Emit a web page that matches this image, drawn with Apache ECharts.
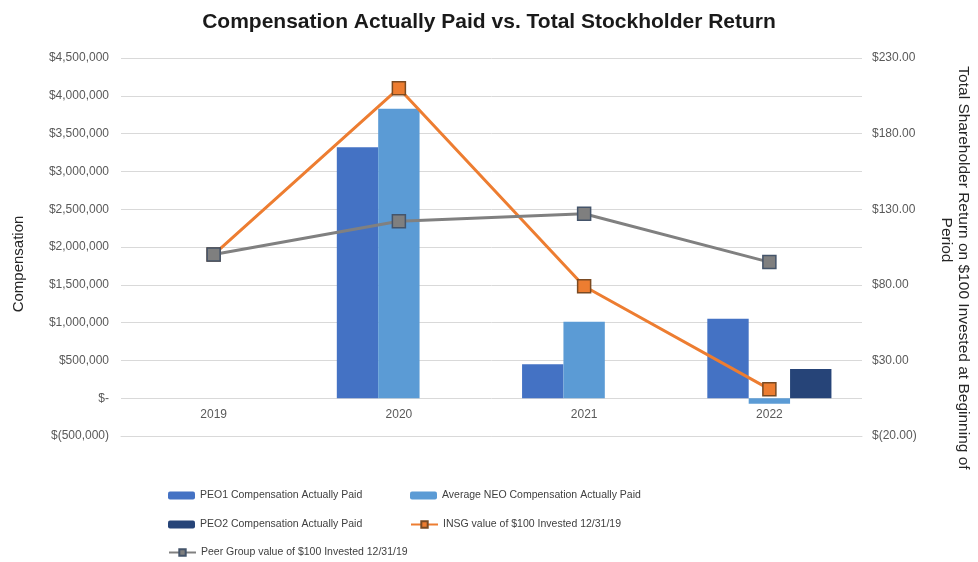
<!DOCTYPE html>
<html>
<head>
<meta charset="utf-8">
<script src="https://cdn.jsdelivr.net/npm/echarts@6/dist/echarts.min.js"></script>
<style>
  html, body { margin: 0; padding: 0; background: #fff; }
  #chart { width: 978px; height: 562px; }
</style>
</head>
<body>
<div id="chart"></div>
<script>
// data
var years = ['2019', '2020', '2021', '2022'];
var peo1Paid = [null, 3320000, 450000, 1050000];
var neoPaid = [null, 3830000, 1010000, -75000];
var peo2Paid = [null, null, null, 385000];
var insgValue = [100, 210, 79, 11];
var peerValue = [100, 122, 127, 95];
var rightTicks = [-20, 30, 80, 130, 180, 230];

var names = {
  peo1: 'PEO1 Compensation Actually Paid',
  neo: 'Average NEO Compensation Actually Paid',
  peo2: 'PEO2 Compensation Actually Paid',
  insg: 'INSG value of $100 Invested 12/31/19',
  peer: 'Peer Group value of $100 Invested 12/31/19'
};

function money(v) {
  if (v === 0) return '$-';
  var s = Math.abs(v).toLocaleString('en-US');
  return v < 0 ? '$(' + s + ')' : '$' + s;
}
function money2(v) {
  var s = Math.abs(v).toFixed(2);
  return v < 0 ? '$(' + s + ')' : '$' + s;
}

var font = 'Liberation Sans';
var legendText = { color: '#404040', fontSize: 10.5, fontFamily: font };

function legendAt(name, x, y) {
  return {
    data: [name], left: x, top: y, itemWidth: 27, itemHeight: 8,
    itemGap: 4, padding: 0, textStyle: legendText
  };
}

var chart = echarts.init(document.getElementById('chart'));
var option = {
  animation: false,
  title: {
    text: 'Compensation Actually Paid vs. Total Stockholder Return',
    left: 'center', top: 7,
    textStyle: { fontSize: 21, fontWeight: 'bold', color: '#1a1a1a', fontFamily: font }
  },
  legend: [
    legendAt(names.peo1, 168, 490),
    legendAt(names.neo, 410, 490),
    legendAt(names.peo2, 168, 519),
    legendAt(names.insg, 410, 519),
    legendAt(names.peer, 168, 547)
  ],
  grid: { left: 121, right: 116, top: 58, bottom: 126, outerBoundsMode: 'none' },
  xAxis: {
    type: 'category',
    data: years,
    axisLine: { onZero: false, lineStyle: { color: '#d9d9d9' } },
    axisTick: { show: false },
    axisLabel: { color: '#595959', fontSize: 12, fontFamily: font, margin: -27 }
  },
  yAxis: [{
    type: 'value',
    min: -500000, max: 4500000, interval: 500000,
    name: '{a|Compensation}', nameLocation: 'middle', nameGap: 95,
    nameTextStyle: {
      color: '#262626', fontSize: 15, fontFamily: font,
      rich: { a: { fontSize: 15, fontFamily: font, color: '#262626', padding: [0, 34, 0, 0] } }
    },
    axisLine: { show: false }, axisTick: { show: false },
    splitLine: { lineStyle: { color: '#d9d9d9' } },
    axisLabel: { color: '#595959', fontSize: 12, fontFamily: font, margin: 12, formatter: money }
  }, {
    type: 'value',
    min: -20, max: 230,
    name: '{a|Total Shareholder Return on $100 Invested at Beginning of}\n{b|Period}',
    nameLocation: 'middle', nameRotate: -90, nameGap: 76,
    nameTextStyle: {
      color: '#262626', fontSize: 15.5, fontFamily: font,
      rich: {
        a: { fontSize: 15.5, fontFamily: font, color: '#262626', lineHeight: 17, padding: [0, 0, 0, 42] },
        b: { fontSize: 15.5, fontFamily: font, color: '#262626', lineHeight: 17, padding: [0, 14, 0, 0] }
      }
    },
    axisLine: { show: false }, axisTick: { show: false },
    splitLine: { show: false },
    axisLabel: {
      color: '#595959', fontSize: 12, fontFamily: font, margin: 10,
      customValues: rightTicks, formatter: money2
    }
  }],
  series: [{
    name: names.peo1, type: 'bar', data: peo1Paid,
    barGap: '0%', barCategoryGap: '33%',
    itemStyle: { color: '#4472C4' }
  }, {
    name: names.neo, type: 'bar', data: neoPaid,
    itemStyle: { color: '#5B9BD5' }
  }, {
    name: names.peo2, type: 'bar', data: peo2Paid,
    itemStyle: { color: '#264478' }
  }, {
    name: names.insg, type: 'line', yAxisIndex: 1, data: insgValue,
    symbol: 'rect', symbolSize: 13,
    lineStyle: { color: '#ED7D31', width: 3 },
    itemStyle: { color: '#ED7D31', borderColor: '#7a4a22', borderWidth: 1.5 },
    z: 4
  }, {
    name: names.peer, type: 'line', yAxisIndex: 1, data: peerValue,
    symbol: 'rect', symbolSize: 13,
    lineStyle: { color: '#808080', width: 3 },
    itemStyle: { color: '#7f7f7f', borderColor: '#44546A', borderWidth: 1.5 },
    z: 5
  }]
};
chart.setOption(option);
</script>
</body>
</html>
